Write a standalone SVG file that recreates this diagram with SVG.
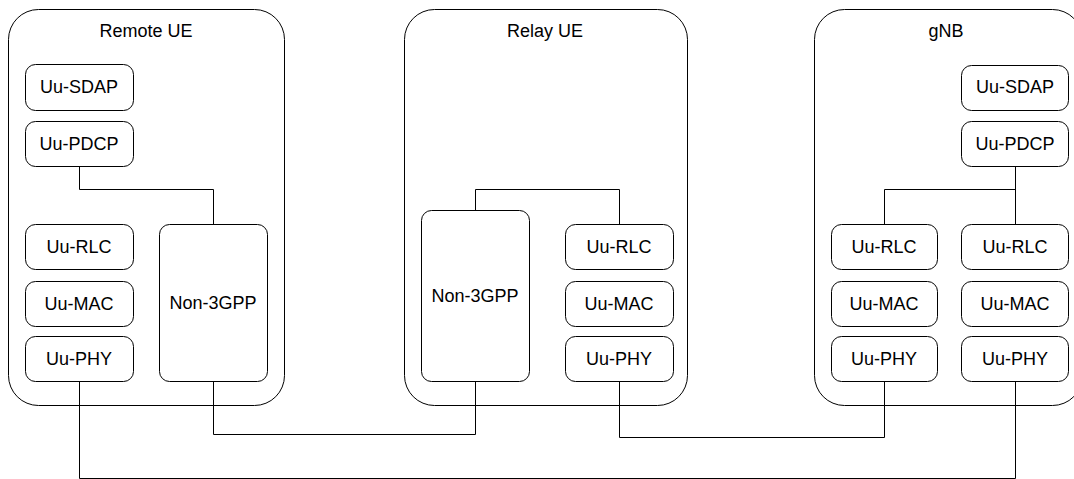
<svg xmlns="http://www.w3.org/2000/svg" width="1074" height="479" viewBox="0 0 1074 479">
<style>
.c{fill:#fff;stroke:#000;stroke-width:1}
.n{fill:#fff;stroke:#000;stroke-width:1}
.t{font-family:"Liberation Sans",Arial,sans-serif;font-size:18px;fill:#000;text-anchor:middle}
.l{fill:none;stroke:#000;stroke-width:1}
</style>
<rect width="1074" height="479" fill="#fff"/>
<g id="remote-ue">
<rect class="c" x="8.5" y="9.5" width="276" height="396" rx="30"/>
<text class="t" x="146" y="37">Remote UE</text>
</g>
<g id="relay-ue">
<rect class="c" x="404.5" y="9.5" width="283" height="396" rx="30"/>
<text class="t" x="545" y="37">Relay UE</text>
</g>
<g id="gnb">
<rect class="c" x="814.5" y="9.5" width="268" height="396" rx="30"/>
<text class="t" x="946" y="37">gNB</text>
</g>
<g id="connectors">
<path class="l" d="M79.5 166 V189.5 H213.5 V224"/>
<path class="l" d="M79.5 381 V478.5 H1015.5 V381"/>
<path class="l" d="M213.5 381 V434.5 H475.5 V381"/>
<path class="l" d="M475.5 210 V189.5 H619.5 V224"/>
<path class="l" d="M619.5 381 V437.5 H884.5 V381"/>
<path class="l" d="M1015.5 166 V224 M1015.5 189.5 H884.5 V224"/>
</g>
<g id="r-sdap"><rect class="n" x="25.5" y="64.5" width="108" height="46" rx="10"/><text class="t" x="79" y="93">Uu-SDAP</text></g>
<g id="r-pdcp"><rect class="n" x="25.5" y="121.5" width="108" height="45" rx="10"/><text class="t" x="79" y="150">Uu-PDCP</text></g>
<g id="r-rlc"><rect class="n" x="25.5" y="224.5" width="108" height="45" rx="10"/><text class="t" x="79" y="253">Uu-RLC</text></g>
<g id="r-mac"><rect class="n" x="25.5" y="281.5" width="108" height="45" rx="10"/><text class="t" x="79" y="310">Uu-MAC</text></g>
<g id="r-phy"><rect class="n" x="25.5" y="336.5" width="108" height="45" rx="10"/><text class="t" x="79" y="365">Uu-PHY</text></g>
<g id="r-non3gpp"><rect class="n" x="159.5" y="224.5" width="108" height="157" rx="10"/><text class="t" x="213" y="309">Non-3GPP</text></g>
<g id="y-non3gpp"><rect class="n" x="421.5" y="210.5" width="108" height="171" rx="10"/><text class="t" x="475" y="302">Non-3GPP</text></g>
<g id="y-rlc"><rect class="n" x="565.5" y="224.5" width="108" height="45" rx="10"/><text class="t" x="619" y="253">Uu-RLC</text></g>
<g id="y-mac"><rect class="n" x="565.5" y="281.5" width="108" height="45" rx="10"/><text class="t" x="619" y="310">Uu-MAC</text></g>
<g id="y-phy"><rect class="n" x="565.5" y="336.5" width="108" height="45" rx="10"/><text class="t" x="619" y="365">Uu-PHY</text></g>
<g id="g-sdap"><rect class="n" x="961.5" y="65.5" width="107" height="45" rx="10"/><text class="t" x="1015" y="93">Uu-SDAP</text></g>
<g id="g-pdcp"><rect class="n" x="961.5" y="121.5" width="107" height="45" rx="10"/><text class="t" x="1015" y="150">Uu-PDCP</text></g>
<g id="g-rlc1"><rect class="n" x="831.5" y="224.5" width="106" height="45" rx="10"/><text class="t" x="884" y="253">Uu-RLC</text></g>
<g id="g-mac1"><rect class="n" x="831.5" y="281.5" width="106" height="45" rx="10"/><text class="t" x="884" y="310">Uu-MAC</text></g>
<g id="g-phy1"><rect class="n" x="831.5" y="336.5" width="106" height="45" rx="10"/><text class="t" x="884" y="365">Uu-PHY</text></g>
<g id="g-rlc2"><rect class="n" x="961.5" y="224.5" width="107" height="45" rx="10"/><text class="t" x="1015" y="253">Uu-RLC</text></g>
<g id="g-mac2"><rect class="n" x="961.5" y="281.5" width="107" height="45" rx="10"/><text class="t" x="1015" y="310">Uu-MAC</text></g>
<g id="g-phy2"><rect class="n" x="961.5" y="336.5" width="107" height="45" rx="10"/><text class="t" x="1015" y="365">Uu-PHY</text></g>
</svg>
